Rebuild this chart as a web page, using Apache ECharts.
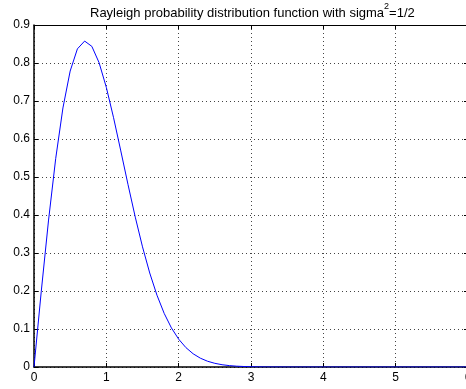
<!DOCTYPE html>
<html><head><meta charset="utf-8">
<script src="https://cdn.jsdelivr.net/npm/echarts@6/dist/echarts.min.js"></script>
<style>html,body{margin:0;padding:0;background:#fff;}#c{width:466px;height:389px;}</style>
</head><body><div id="c"></div>
<script>
const xs = [0,0.1,0.2,0.3,0.4,0.5,0.6,0.7,0.8,0.9,1.0,1.1,1.2,1.3,1.4,1.5,1.6,1.7,1.8,1.9,2.0,2.1,2.2,2.3,2.4,2.5,2.6,2.7,2.8,2.9,3.0,3.1,3.2,3.3,3.4,3.5,3.6,3.7,3.8,3.9,4.0,4.1,4.2,4.3,4.4,4.5,4.6,4.7,4.8,4.9,5.0,5.1,5.2,5.3,5.4,5.5,5.6,5.7,5.8,5.9,6.0];
const ys = [0,0.198,0.3843,0.5484,0.6817,0.7788,0.8372,0.8577,0.8437,0.8007,0.7358,0.656,0.5686,0.4798,0.3944,0.3162,0.2474,0.189,0.141,0.1028,0.0733,0.0511,0.0348,0.0232,0.0151,0.0097,0.006,0.0037,0.0022,0.0013,0.0007,0.0004,0.0002,0.0001,0.0001,0,0,0,0,0,0,0,0,0,0,0,0,0,0,0,0,0,0,0,0,0,0,0,0,0,0];
const xTicks = {min:0, max:6, interval:1};
const yTicks = {min:0, max:0.9, interval:0.1};
const titleMain = 'Rayleigh probability distribution function with sigma';
const titleSup = '2';
const titleTail = '=1/2';

const font = 'Liberation Sans, Arial, Helvetica, sans-serif';
const gridLine = {show:true, lineStyle:{color:'#444', width:1, type:[1,3]}};
const chart = echarts.init(document.getElementById('c'), null, {renderer:'canvas'});
chart.setOption({
  animation:false,
  backgroundColor:'#fff',
  title:{
    text:'{a|'+titleMain+'}{s|'+titleSup+'}{a|'+titleTail+'}',
    left:90, top:2, padding:0,
    textStyle:{
      fontWeight:'normal', fontSize:13, fontFamily:font, color:'#000',
      rich:{
        a:{fontFamily:font, fontSize:13, fontWeight:'normal', color:'#000', lineHeight:18, verticalAlign:'bottom'},
        s:{fontFamily:font, fontSize:9, fontWeight:'normal', color:'#000', lineHeight:9, verticalAlign:'top'}
      }
    }
  },
  grid:{left:34, width:434, top:25, bottom:22, containLabel:false, outerBoundsMode:'none'},
  xAxis:[{
    type:'value', min:xTicks.min, max:xTicks.max, interval:xTicks.interval, position:'bottom',
    axisLine:{show:true, onZero:false, lineStyle:{color:'#000', width:1.5}},
    axisTick:{show:true, inside:true, length:4, lineStyle:{color:'#000'}},
    axisLabel:{color:'#000', fontFamily:font, fontSize:12, margin:5},
    splitLine:gridLine
  },{
    type:'value', min:xTicks.min, max:xTicks.max, interval:xTicks.interval, position:'top',
    axisLine:{show:true, onZero:false, lineStyle:{color:'#000', width:1}},
    axisTick:{show:true, inside:true, length:4, lineStyle:{color:'#000'}},
    axisLabel:{show:false}, splitLine:{show:false}
  }],
  yAxis:[{
    type:'value', min:yTicks.min, max:yTicks.max, interval:yTicks.interval, position:'left',
    axisLine:{show:true, onZero:false, lineStyle:{color:'#000', width:1.5}},
    axisTick:{show:true, inside:true, length:4, lineStyle:{color:'#000'}},
    axisLabel:{color:'#000', fontFamily:font, fontSize:12, margin:4, formatter:function(v){return Math.abs(v)<1e-9?'0':v.toFixed(1);}},
    splitLine:gridLine
  },{
    type:'value', min:yTicks.min, max:yTicks.max, interval:yTicks.interval, position:'right',
    axisLine:{show:true, onZero:false, lineStyle:{color:'#000', width:1}},
    axisTick:{show:true, inside:true, length:4, lineStyle:{color:'#000'}},
    axisLabel:{show:false}, splitLine:{show:false}
  }],
  series:[{
    type:'line', xAxisIndex:0, yAxisIndex:0,
    data: xs.map((x,i)=>[x, ys[i]]),
    showSymbol:false, symbol:'none',
    lineStyle:{color:'#0000ff', width:1},
    z:5
  }]
});
</script></body></html>
